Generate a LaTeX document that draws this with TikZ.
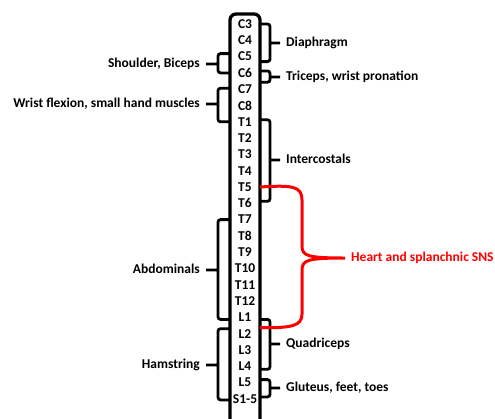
\documentclass[tikz,border=0pt]{standalone}
\usepackage{fontspec}
\setmainfont{Carlito}
\usepackage{tikz}
\usetikzlibrary{positioning}

\begin{document}
\begin{tikzpicture}[x=1pt,y=-1pt,node distance=16.3pt,
    seg/.style={font=\bfseries\fontsize{13.5}{15}\selectfont,inner sep=0pt},
    lbl/.style={font=\bfseries\fontsize{13.5}{16}\selectfont,inner xsep=6pt,inner ysep=0pt,text height=9pt,text depth=2pt},
    brk/.style={line width=2.8pt,rounded corners=2.5pt},
    sns/.style={red,line width=3pt}]
  \useasboundingbox (0,0) rectangle (495,418);

  \node[draw,line width=3.3pt,rounded corners=6pt,outer sep=0pt,inner sep=0pt,minimum width=30pt,minimum height=416pt] (spine) at (245,222) {};

  \node[seg] (c3) at (245,24) {C3};
  \node[seg] (c4) [below of=c3] {C4};
  \node[seg] (c5) [below of=c4] {C5};
  \node[seg] (c6) [below of=c5] {C6};
  \node[seg] (c7) [below of=c6] {C7};
  \node[seg] (c8) [below of=c7] {C8};
  \node[seg] (t1) [below of=c8] {T1};
  \node[seg] (t2) [below of=t1] {T2};
  \node[seg] (t3) [below of=t2] {T3};
  \node[seg] (t4) [below of=t3] {T4};
  \node[seg] (t5) [below of=t4] {T5};
  \node[seg] (t6) [below of=t5] {T6};
  \node[seg] (t7) [below of=t6] {T7};
  \node[seg] (t8) [below of=t7] {T8};
  \node[seg] (t9) [below of=t8] {T9};
  \node[seg] (t10) [below of=t9] {T10};
  \node[seg] (t11) [below of=t10] {T11};
  \node[seg] (t12) [below of=t11] {T12};
  \node[seg] (l1) [below of=t12] {L1};
  \node[seg] (l2) [below of=l1] {L2};
  \node[seg] (l3) [below of=l2] {L3};
  \node[seg] (l4) [below of=l3] {L4};
  \node[seg] (l5) [below of=l4] {L5};
  \node[seg] (s15) [below of=l5] {S1-5};

  % muscle groups
  \node[lbl,anchor=west] (dia) at (280,43) {Diaphragm};
  \node[lbl,anchor=west] (tri) at (280,77) {Triceps, wrist pronation};
  \node[lbl,anchor=west] (ics) at (280,160) {Intercostals};
  \node[lbl,anchor=west] (qua) at (280,344) {Quadriceps};
  \node[lbl,anchor=west] (glu) at (280,388) {Gluteus, feet, toes};
  \node[lbl,anchor=east] (shb) at (206,64) {Shoulder, Biceps};
  \node[lbl,anchor=east] (wfx) at (206,104) {Wrist flexion, small hand muscles};
  \node[lbl,anchor=east] (abd) at (206,270) {Abdominals};
  \node[lbl,anchor=east] (ham) at (206,365) {Hamstring};
  \node[lbl,anchor=west,text=red] (sns) at (345,258) {Heart and splanchnic SNS};

  % right brackets
  \draw[brk] (spine.east |- c3) -| ([xshift=10pt]spine.east |- dia.west) |- ([yshift=-5pt]spine.east |- c5)
    ([xshift=10pt]spine.east |- dia.west) -- (dia.west);
  \draw[brk] ([yshift=2pt]spine.east |- c6) -| ([xshift=10pt]spine.east |- tri.west) |- ([yshift=7pt]spine.east |- c7)
    ([xshift=10pt]spine.east |- tri.west) -- (tri.west);
  \draw[brk] ([yshift=2pt]spine.east |- t1) -| ([xshift=10pt]spine.east |- ics.west) |- ([yshift=2pt]spine.east |- t6)
    ([xshift=10pt]spine.east |- ics.west) -- (ics.west);
  \draw[brk] ([yshift=-2pt]spine.east |- l1) -| ([xshift=10pt]spine.east |- qua.west) |- ([yshift=-3pt]spine.east |- l4)
    ([xshift=10pt]spine.east |- qua.west) -- (qua.west);
  \draw[brk] ([yshift=3pt]spine.east |- l5) -| ([xshift=10pt]spine.east |- glu.west) |- ([yshift=2pt]spine.east |- s15)
    ([xshift=10pt]spine.east |- glu.west) -- (glu.west);

  % left brackets
  \draw[brk] ([yshift=3pt]spine.west |- c5) -| ([xshift=-12pt]spine.west |- shb.east) |- (spine.west |- c6)
    ([xshift=-12pt]spine.west |- shb.east) -- (shb.east);
  \draw[brk] ([yshift=1pt]spine.west |- c7) -| ([xshift=-12pt]spine.west |- wfx.east) |- (spine.west |- t1)
    ([xshift=-12pt]spine.west |- wfx.east) -- (wfx.east);
  \draw[brk] (spine.west |- t7) -| ([xshift=-12pt]spine.west |- abd.east) |- ([yshift=-2pt]spine.west |- l1)
    ([xshift=-12pt]spine.west |- abd.east) -- (abd.east);
  \draw[brk] ([yshift=5pt]spine.west |- l2) -| ([xshift=-12pt]spine.west |- ham.east) |- ([yshift=-1pt]spine.west |- s15)
    ([xshift=-12pt]spine.west |- ham.east) -- (ham.east);

  % sympathetic outflow
  \draw[sns] (spine.east |- t5) .. controls (292,185) and (302,186) .. (302,200) -- (302,246)
    .. controls (302,256) and (308,258) .. (sns.west)
    .. controls (308,258) and (302,260) .. (302,270) -- (302,314)
    .. controls (302,326) and (292,328) .. ([yshift=6pt]spine.east |- l2);
\end{tikzpicture}
\end{document}
